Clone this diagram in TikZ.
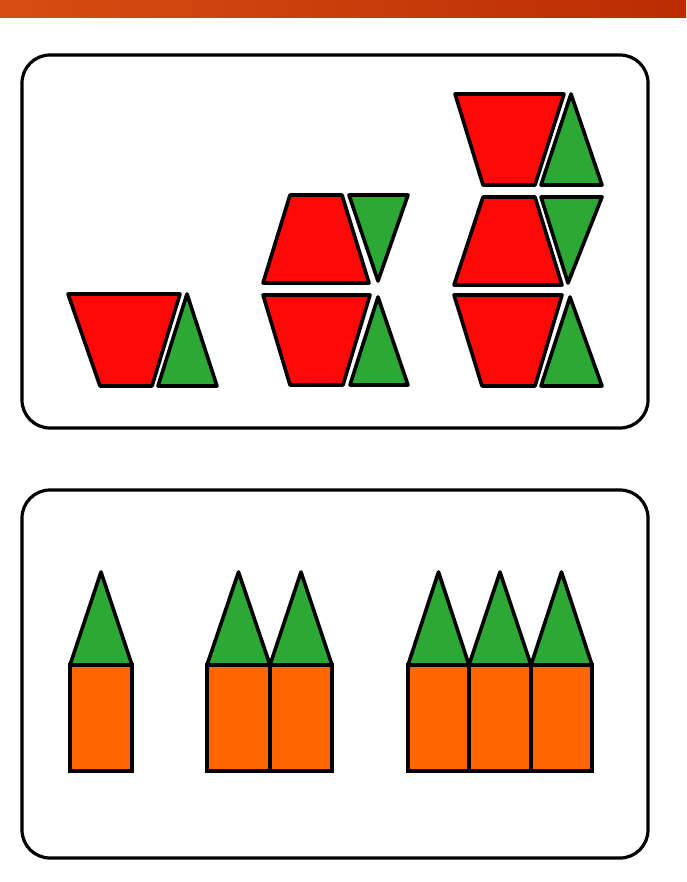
\documentclass[tikz,border=0pt]{standalone}
\usepackage{tikz}
\usetikzlibrary{calc}
\definecolor{barleft}{RGB}{214,78,18}
\definecolor{barright}{RGB}{188,44,4}
\definecolor{piecered}{RGB}{255,8,8}
\definecolor{piecegreen}{RGB}{44,168,52}
\definecolor{pieceorange}{RGB}{255,102,0}
\tikzset{
  panel/.style={draw=black, line width=1.6pt, rounded corners=14pt, fill=white},
  redpiece/.style={draw=black, line width=1.8pt, fill=piecered, line join=round},
  greenpiece/.style={draw=black, line width=1.8pt, fill=piecegreen, line join=round},
  orangepiece/.style={draw=black, line width=1.6pt, fill=pieceorange},
}

\begin{document}
\begin{tikzpicture}[x=0.5pt,y=-0.5pt]
\useasboundingbox (0,0) rectangle (686,882);
\fill[white] (0,0) rectangle (686,882);
\shade[left color=barleft, right color=barright] (0,0) rectangle (686,18);
% top panel: trapezoid + triangle patterns
\draw[panel] (22,55) rectangle (648,428);
\draw[redpiece] (68,294) -- (180,294) -- (152,386) -- (100,386) -- cycle;
\draw[greenpiece] (187,294) -- (217,386) -- (158,386) -- cycle;
\draw[redpiece] (290,195) -- (342,195) -- (369,283) -- (263,283) -- cycle;
\draw[redpiece] (263,295) -- (370,295) -- (343,385) -- (290,385) -- cycle;
\draw[greenpiece] (349,195) -- (408,195) -- (378,281) -- cycle;
\draw[greenpiece] (378,297) -- (408,385) -- (350,385) -- cycle;
\draw[redpiece] (455,94) -- (564,94) -- (535,185) -- (483,185) -- cycle;
\draw[redpiece] (483,197) -- (535,197) -- (562,285) -- (454,285) -- cycle;
\draw[redpiece] (454,295) -- (562,295) -- (535,386) -- (482,386) -- cycle;
\draw[greenpiece] (571,94) -- (602,185) -- (541,185) -- cycle;
\draw[greenpiece] (541,197) -- (602,197) -- (568,283) -- cycle;
\draw[greenpiece] (570,297) -- (602,386) -- (541,386) -- cycle;
% bottom panel: square + triangle patterns
\draw[panel] (22,490) rectangle (648,858);
\foreach \xl/\xr in {70/132, 207/270, 270/332, 408/469, 469/531, 531/592}{
  \draw[orangepiece] (\xl,665) rectangle (\xr,771);
  \draw[greenpiece] (\xl,665) -- ({(\xl+\xr)/2},572) -- (\xr,665) -- cycle;
}
\end{tikzpicture}
\end{document}
